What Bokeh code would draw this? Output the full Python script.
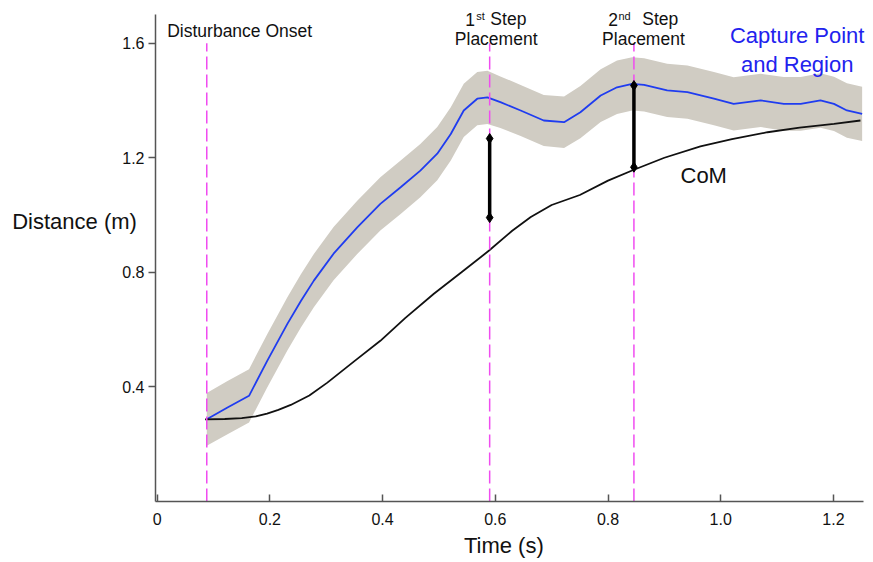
from bokeh.plotting import figure
from bokeh.models import Range1d, FixedTicker, Label
from bokeh.embed import file_html
from bokeh.resources import INLINE

# ---------------- data ----------------
cp_t = [0.088, 0.124, 0.163, 0.195, 0.231, 0.255, 0.278, 0.313, 0.355, 0.396,
        0.432, 0.467, 0.497, 0.521, 0.544, 0.568, 0.586, 0.609, 0.645, 0.686,
        0.722, 0.751, 0.787, 0.816, 0.843, 0.864, 0.905, 0.941, 0.988, 1.023,
        1.071, 1.112, 1.142, 1.177, 1.201, 1.224, 1.251]
cp_val = [0.287, 0.327, 0.369, 0.49, 0.62, 0.70, 0.771, 0.865, 0.957, 1.039,
          1.097, 1.155, 1.214, 1.283, 1.365, 1.406, 1.411, 1.394, 1.365, 1.330,
          1.324, 1.359, 1.417, 1.446, 1.458, 1.454, 1.435, 1.429, 1.406, 1.388,
          1.400, 1.388, 1.388, 1.400, 1.388, 1.365, 1.353]
region_half = [0.092, 0.093, 0.093, 0.093, 0.093, 0.093, 0.093, 0.093, 0.093, 0.093,
               0.093, 0.093, 0.093, 0.093, 0.093, 0.093, 0.093, 0.090, 0.089, 0.089,
               0.090, 0.091, 0.092, 0.093, 0.093, 0.093, 0.093, 0.093, 0.093, 0.093,
               0.093, 0.094, 0.094, 0.095, 0.095, 0.095, 0.095]

com_t = [0.085, 0.12, 0.15, 0.175, 0.195, 0.215, 0.237, 0.27, 0.302, 0.35, 0.396,
         0.44, 0.491, 0.54, 0.589, 0.63, 0.663, 0.70, 0.75, 0.80, 0.846, 0.90,
         0.964, 1.02, 1.083, 1.14, 1.201, 1.248]
com_val = [0.287, 0.288, 0.291, 0.297, 0.307, 0.32, 0.337, 0.37, 0.415, 0.49, 0.561,
           0.64, 0.725, 0.80, 0.876, 0.945, 0.993, 1.035, 1.07, 1.12, 1.158, 1.20,
           1.24, 1.265, 1.289, 1.305, 1.318, 1.330]

event_t = [0.088, 0.590, 0.846]          # disturbance onset, 1st step, 2nd step
event_top = 1.6

step_t = [0.590, 0.846]
step_low = [0.991, 1.167]
step_high = [1.267, 1.452]

x_ticks = [0, 0.2, 0.4, 0.6, 0.8, 1.0, 1.2]
x_tick_labels = ["0", "0.2", "0.4", "0.6", "0.8", "1.0", "1.2"]
y_ticks = [0.4, 0.8, 1.2, 1.6]
y_tick_labels = ["0.4", "0.8", "1.2", "1.6"]

FONT = "Liberation Sans"

# ---------------- layout: frame = whole canvas, axes at fixed locations ----------------
W, H = 873, 562
AX_X0, AX_X1 = -0.003, 1.2534    # extent of the x axis
AX_Y0, AX_Y1 = 0.0, 1.70         # extent of the y axis
PX_L, PX_R, PX_T, PX_B = 155, 863, 14, 501
sx = (PX_R - PX_L) / (AX_X1 - AX_X0)
sy = (PX_B - PX_T) / (AX_Y1 - AX_Y0)
x_start = AX_X0 - PX_L / sx
x_end = AX_X0 + (W - PX_L) / sx
y_start = AX_Y0 - (H - PX_B) / sy
y_end = AX_Y0 + PX_B / sy


def dx(px):
    return AX_X0 + (px - PX_L) / sx


def dy(py):
    return AX_Y0 + (PX_B - py) / sy


p = figure(width=W, height=H, output_backend="svg", toolbar_location=None,
           x_range=Range1d(x_start, x_end), y_range=Range1d(y_start, y_end),
           min_border=0, min_border_left=0, min_border_right=0,
           min_border_top=0, min_border_bottom=0)
p.outline_line_color = None
p.xgrid.visible = False
p.ygrid.visible = False
p.background_fill_color = "white"
p.border_fill_color = "white"

upper = [v + h for v, h in zip(cp_val, region_half)]
lower = [v - h for v, h in zip(cp_val, region_half)]
p.varea(x=cp_t, y1=lower, y2=upper, fill_color="#d0ccc3")
p.line(cp_t, cp_val, line_color="#1f3cf0", line_width=1.8)
p.line(com_t, com_val, line_color="#111111", line_width=1.8)

p.segment(x0=event_t, y0=[0] * len(event_t), x1=event_t, y1=[event_top] * len(event_t),
          line_color="#f04cf0", line_width=1.5, line_dash="13 5")

p.segment(x0=step_t, y0=step_low, x1=step_t, y1=step_high, line_color="black", line_width=3.5)
p.scatter(step_t + step_t, step_low + step_high, marker="diamond", size=10,
          fill_color="black", line_color="black")

# axes
for ax in (p.xaxis[0], p.yaxis[0]):
    ax.axis_line_color = "#555555"
    ax.axis_line_width = 1.5
    ax.major_tick_line_color = "#555555"
    ax.major_tick_line_width = 1.5
    ax.minor_tick_line_color = None
    ax.major_label_text_font = FONT
    ax.major_label_text_font_size = "16px"
    ax.major_label_text_color = "#111111"

p.xaxis.fixed_location = AX_Y0
p.xaxis.bounds = (AX_X0, AX_X1)
p.xaxis.ticker = FixedTicker(ticks=x_ticks)
p.xaxis.major_label_overrides = dict(zip(x_ticks, x_tick_labels))
p.xaxis.major_tick_in = 7
p.xaxis.major_tick_out = 0
p.xaxis.major_label_standoff = 11

p.yaxis.fixed_location = AX_X0
p.yaxis.bounds = (AX_Y0, AX_Y1)
p.yaxis.ticker = FixedTicker(ticks=y_ticks)
p.yaxis.major_label_overrides = dict(zip(y_ticks, y_tick_labels))
p.yaxis.major_tick_in = 0
p.yaxis.major_tick_out = 7
p.yaxis.major_label_standoff = 4


def lab(x, py, text, size, color="#111111", align="left", x_offset=0):
    # py: wanted baseline in pixels from the top; compensate the renderer's baseline shift
    shift = 0.36 * size
    p.add_layout(Label(x=x, y=dy(py - shift), text=text, text_font=FONT,
                       text_font_size=f"{size}px", text_color=color, text_align=align,
                       text_baseline="alphabetic", x_offset=x_offset))


lab(dx(166.7), 36.7, "Disturbance Onset", 17.5)

# 1st step
lab(step_t[0], 25, "1", 17.5, x_offset=-24.3)
lab(step_t[0], 19, "st", 11, x_offset=-13.3)
lab(step_t[0], 25, "Step", 17.5, x_offset=0.7)
lab(step_t[0], 45, "Placement", 17.5, align="center", x_offset=6.5)
# 2nd step
lab(step_t[1], 25, "2", 17.5, x_offset=-25.6)
lab(step_t[1], 19, "nd", 11, x_offset=-15.5)
lab(step_t[1], 25, "Step", 17.5, x_offset=8.4)
lab(step_t[1], 45, "Placement", 17.5, align="center", x_offset=9.5)

lab(dx(796.7), 43.3, "Capture Point", 22, color="#2222ee", align="center")
lab(dx(796.7), 71.7, "and Region", 22, color="#2222ee", align="center")
lab(dx(680), 183.3, "CoM", 22)

lab(dx(11.7), 229.3, "Distance (m)", 22)
lab(dx(503.3), 553.3, "Time (s)", 22, align="center")

open("out.html", "w").write(file_html(p, INLINE))
